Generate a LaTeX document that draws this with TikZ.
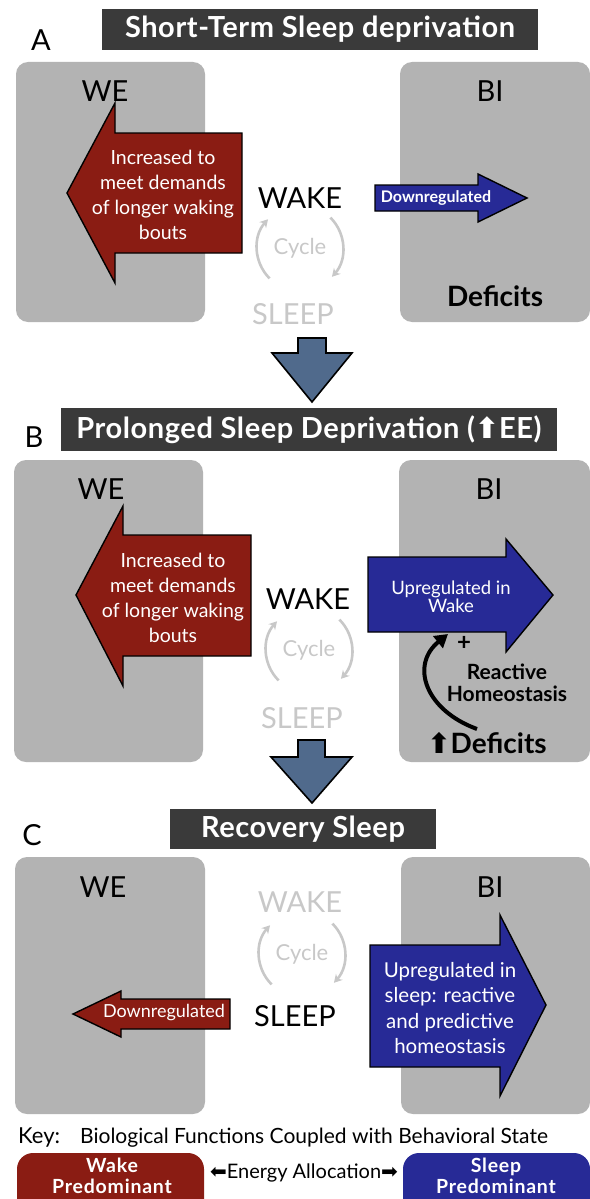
\documentclass[tikz,border=0pt]{standalone}
\usepackage{fontspec}
\setmainfont{Lato}
\newfontfamily\symfont{DejaVu Sans}
\usepackage{color}
\definecolor{mywakered}{RGB}{138,28,19}
\definecolor{mysleepblue}{RGB}{39,42,150}
\definecolor{mypanelgray}{RGB}{179,179,179}
\definecolor{mytitlegray}{RGB}{58,58,58}
\definecolor{mycyclegray}{RGB}{200,200,200}
\definecolor{mysteelblue}{RGB}{80,106,140}
\usepackage{tikz}
\usetikzlibrary{arrows.meta,positioning,calc}
\tikzstyle{panel}=[fill=mypanelgray,rounded corners=12pt,draw=none,inner sep=0pt]
\tikzstyle{titlebar}=[fill=mytitlegray,text=white,inner sep=0pt,
  font=\bfseries\fontsize{29}{31}\selectfont\addfontfeatures{LetterSpace=2}]
\newcommand{\upglyph}{{\symfont\bfseries ⬆}}

\begin{document}
\begin{tikzpicture}[
  x=1pt, y=-1pt,
  big/.style={font=\fontsize{29}{31}\selectfont},
  letter/.style={font=\fontsize{29}{31}\selectfont},
  faded/.style={text=mycyclegray},
  cycletxt/.style={text=mycyclegray,font=\fontsize{22}{24}\selectfont},
  cyclearc/.style={draw=mycyclegray,line width=2.6pt,-{Stealth[length=8pt,width=9pt]}},
  wakearrow/.style={fill=mywakered,draw=black,line width=1.4pt,line join=miter},
  sleeparrow/.style={fill=mysleepblue,draw=black,line width=1.4pt,line join=miter},
  downarrow/.style={fill=mysteelblue,draw=black,line width=1.6pt,line join=miter},
  intext/.style={text=white,align=center,inner sep=0pt,
    font=\fontsize{19.5}{25}\selectfont},
  boldlbl/.style={align=center,inner sep=0pt,font=\bfseries\fontsize{21}{22.5}\selectfont},
  deflbl/.style={inner sep=0pt,font=\bfseries\fontsize{28}{30}\selectfont},
  keybox/.style={rounded corners=16pt,draw=none,inner sep=0pt},
  keytxt/.style={text=white,align=center,inner sep=0pt,
    font=\bfseries\fontsize{19.5}{21.5}\selectfont\addfontfeatures{LetterSpace=4}}
]
\useasboundingbox (0,0) rectangle (589,1199);

%%% panel A
\node[letter] (labA) at (41,40) {A};
\node[titlebar,minimum width=436pt,minimum height=41pt] (titA) at (320,29.5)
  {Short-Term Sleep deprivation};
\node[panel,minimum width=189pt,minimum height=260pt] (weA) at (110.5,192) {};
\node[panel,minimum width=190pt,minimum height=260pt] (biA) at (495,192) {};
\node[big] (weAl) at (105,91) {WE};
\node[big] (biAl) at (490,91) {BI};
\filldraw[wakearrow] (67,193) -- (115,103) -- (115,133) -- (242,133)
  -- (242,253) -- (115,253) -- (115,283) -- cycle;
\node[intext] (incA) at (163,195)
  {Increased to\\meet demands\\of longer waking\\bouts};
\filldraw[sleeparrow] (375,185) -- (478,185) -- (478,174) -- (527,198)
  -- (478,222) -- (478,211) -- (375,211) -- cycle;
\node[intext,font=\bfseries\fontsize{16}{18}\selectfont] (downA) at (436,198) {Downregulated};
\node[big] (wakeA) at (300,198) {WAKE};
\node[cycletxt] (cycA) at (300,248) {Cycle};
\node[big,faded] (sleepA) at (293,314) {SLEEP};
\draw[cyclearc] ($(cycA)+(135:43)$) arc[start angle=135,end angle=222,radius=43];
\draw[cyclearc] ($(cycA)+(-45:43)$) arc[start angle=-45,end angle=42,radius=43];
\node[deflbl] (defA) at (495,296) {Deficits};

% step A to B
\filldraw[downarrow] (298,338) -- (326,338) -- (326,353) -- (352,353)
  -- (312,402) -- (272,353) -- (298,353) -- cycle;

%%% panel B
\node[letter] (labB) at (34,437) {B};
\node[titlebar,minimum width=496pt,minimum height=43pt] (titB) at (309,429.5)
  {Prolonged Sleep Deprivation (\upglyph EE)};
\node[panel,minimum width=189pt,minimum height=302pt] (weB) at (108.5,611) {};
\node[panel,minimum width=191pt,minimum height=302pt] (biB) at (494.5,611) {};
\node[big] (weBl) at (101,489) {WE};
\node[big] (biBl) at (489,489) {BI};
\filldraw[wakearrow] (76,595) -- (123,506) -- (123,535) -- (251,535)
  -- (251,656) -- (123,656) -- (123,686) -- cycle;
\node[intext] (incB) at (173,598)
  {Increased to\\meet demands\\of longer waking\\bouts};
\filldraw[sleeparrow] (368,557) -- (506,557) -- (506,539) -- (553,595)
  -- (506,652) -- (506,632) -- (368,632) -- cycle;
\node[intext,font=\fontsize{18.5}{18}\selectfont] (upB) at (451,597) {Upregulated in\\Wake};
\node[big] (wakeB) at (308,599) {WAKE};
\node[cycletxt] (cycB) at (309,650) {Cycle};
\node[big,faded] (sleepB) at (302,718) {SLEEP};
\draw[cyclearc] ($(cycB)+(135:43)$) arc[start angle=135,end angle=222,radius=43];
\draw[cyclearc] ($(cycB)+(-45:43)$) arc[start angle=-45,end angle=42,radius=43];
\node[font=\bfseries\fontsize{24}{24}\selectfont,inner sep=0pt] (plusB) at (464,643) {+};
\node[boldlbl] (reactB) at (507,683) {Reactive\\Homeostasis};
\node[deflbl] (defB) at (487,743) {\upglyph Deficits};
\coordinate (curveS) at (477,729);
\coordinate (curveE) at (448,634);
\draw[line width=4pt,-{Triangle[length=13pt,width=15pt]}] (curveS)
  .. controls (425,710) and (410,665) .. (curveE);

% step B to C
\filldraw[downarrow] (298,740) -- (325,740) -- (325,757) -- (352,757)
  -- (312,803) -- (271,757) -- (298,757) -- cycle;

%%% panel C
\node[letter] (labC) at (32,835) {C};
\node[titlebar,minimum width=266pt,minimum height=40pt] (titC) at (303,829)
  {Recovery Sleep};
\node[panel,minimum width=190pt,minimum height=257pt] (weC) at (110,985.5) {};
\node[panel,minimum width=189pt,minimum height=257pt] (biC) at (495.5,985.5) {};
\node[big] (weCl) at (103,887) {WE};
\node[big] (biCl) at (490,887) {BI};
\node[big,faded] (wakeC) at (300,902) {WAKE};
\node[cycletxt] (cycC) at (302,954) {Cycle};
\node[big] (sleepC) at (295,1016) {SLEEP};
\draw[cyclearc] ($(cycC)+(135:43)$) arc[start angle=135,end angle=222,radius=43];
\draw[cyclearc] ($(cycC)+(-45:43)$) arc[start angle=-45,end angle=42,radius=43];
\filldraw[wakearrow] (73,1014) -- (121,991) -- (121,999) -- (230,999)
  -- (230,1029) -- (121,1029) -- (121,1037) -- cycle;
\node[intext,font=\fontsize{18}{20}\selectfont] (downC) at (164,1013) {Downregulated};
\filldraw[sleeparrow] (370,945) -- (500,945) -- (500,915) -- (546,1005)
  -- (500,1096) -- (500,1067) -- (370,1067) -- cycle;
\node[intext,font=\fontsize{20.5}{25.5}\selectfont] (upC) at (450,1008)
  {Upregulated in\\sleep: reactive\\and predictive\\homeostasis};

%%% key
\node[anchor=base west,inner sep=0pt,font=\fontsize{22}{24}\selectfont] (keyl) at (18,1143) {Key:};
\node[anchor=base west,inner sep=0pt,font=\fontsize{21}{23}\selectfont] (keyt) at (80,1143)
  {Biological Functions Coupled with Behavioral State};
\node[keybox,fill=mywakered,minimum width=187pt,minimum height=62pt] (wakebox) at (110.5,1184) {};
\node[keybox,fill=mysleepblue,minimum width=187pt,minimum height=62pt] (sleepbox) at (496.5,1184) {};
\node[keytxt] (waketxt) at (112,1176) {Wake\\Predominant};
\node[keytxt] (sleeptxt) at (496,1176) {Sleep\\Predominant};
\node[inner sep=0pt,font=\fontsize{20}{22}\selectfont] (energy) at (304,1173)
  {{\symfont ⬅}Energy Allocation{\symfont ➡}};
\end{tikzpicture}
\end{document}
